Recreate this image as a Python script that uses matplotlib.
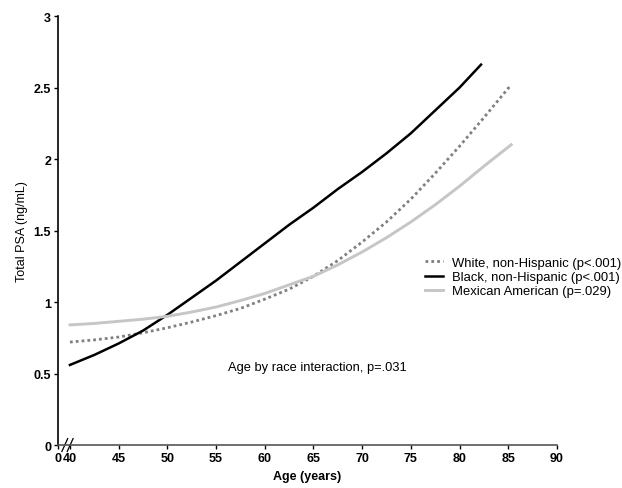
import numpy as np
import matplotlib.pyplot as plt

plt.rcParams['font.family'] = ['Liberation Sans', 'DejaVu Sans']

###Donnees
age_w = [40, 42.5, 45, 47.5, 50, 52.5, 55, 57.5, 60, 62.5, 65, 67.5, 70, 72.5, 75, 77.5, 80, 82.5, 85.3]
psa_w = [0.72, 0.735, 0.755, 0.785, 0.82, 0.86, 0.905, 0.955, 1.02, 1.09, 1.18, 1.29, 1.42, 1.56, 1.72, 1.90, 2.09, 2.29, 2.52]

age_b = [40, 42.5, 45, 47.5, 50, 52.5, 55, 57.5, 60, 62.5, 65, 67.5, 70, 72.5, 75, 77.5, 80, 82.2]
psa_b = [0.56, 0.63, 0.71, 0.80, 0.91, 1.03, 1.15, 1.28, 1.41, 1.54, 1.66, 1.79, 1.91, 2.04, 2.18, 2.34, 2.50, 2.66]

age_m = [40, 42.5, 45, 47.5, 50, 52.5, 55, 57.5, 60, 62.5, 65, 67.5, 70, 72.5, 75, 77.5, 80, 82.5, 85.3]
psa_m = [0.84, 0.85, 0.865, 0.88, 0.90, 0.93, 0.965, 1.01, 1.06, 1.12, 1.18, 1.26, 1.35, 1.45, 1.56, 1.68, 1.81, 1.95, 2.10]

labels = ['White, non-Hispanic (p<.001)', 'Black, non-Hispanic (p<.001)', 'Mexican American (p=.029)']

x0 = 38.77  # position de l'origine (axe coupe)
xticks = [x0, 40, 45, 50, 55, 60, 65, 70, 75, 80, 85, 90]
xticklabels = ['0', '40', '45', '50', '55', '60', '65', '70', '75', '80', '85', '90']
yticks = [0, 0.5, 1, 1.5, 2, 2.5, 3]
yticklabels = ['0', '0.5', '1', '1.5', '2', '2.5', '3']

fig = plt.figure(figsize=(6.22, 4.89), dpi=100)
ax = fig.add_axes([0.0932, 0.0879, 0.8023, 0.8773])

ax.plot(age_w, psa_w, color='#808080', lw=2, linestyle=(0, (1, 1.1)), label=labels[0])
ax.plot(age_b, psa_b, color='black', lw=1.8, label=labels[1])
ax.plot(age_m, psa_m, color='#c6c6c6', lw=2.1, label=labels[2])

ax.set_xlim(x0, 90)
ax.set_ylim(0, 3)
ax.set_xticks(xticks)
ax.set_xticklabels(xticklabels, fontsize=9, fontweight='bold')
ax.set_yticks(yticks)
ax.set_yticklabels(yticklabels, fontsize=9, fontweight='bold')
ax.tick_params(length=3, width=1, pad=2)
ax.spines['top'].set_visible(False)
ax.spines['right'].set_visible(False)
ax.spines['left'].set_linewidth(1.2)
ax.spines['bottom'].set_linewidth(1.2)
ax.spines['bottom'].set_color('#555555')

ax.set_xlabel('Age (years)', fontsize=9, fontweight='bold', labelpad=4)
ax.set_ylabel('Total PSA (ng/mL)', fontsize=9, labelpad=4)

###Marques de coupure sur l'axe x
for dx in [0, 0.55]:
    ax.plot([x0 + 0.4 + dx, x0 + 1.0 + dx], [-0.045, 0.045], color='black', lw=0.9, clip_on=False)

ax.text(65.4, 0.545, 'Age by race interaction, p=.031', fontsize=9.3, ha='center', va='center')

leg = ax.legend(loc='center left', bbox_to_anchor=(425 / 622, 1 - 278 / 489),
                bbox_transform=fig.transFigure, frameon=False, fontsize=9.4,
                handlelength=1.35, handletextpad=0.75, labelspacing=0.15,
                borderpad=0, borderaxespad=0)

plt.savefig('out.png', dpi=100)
